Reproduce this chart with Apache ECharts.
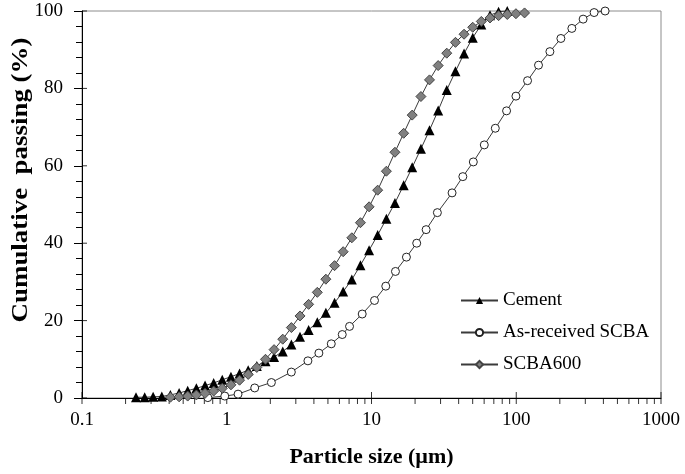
<!DOCTYPE html>
<html><head><meta charset="utf-8">
<script src="https://cdn.jsdelivr.net/npm/echarts@6/dist/echarts.min.js"></script>
<style>html,body{margin:0;padding:0;background:#fff}#c{width:685px;height:474px}</style>
</head><body><div id="c"></div>
<script>
// Particle size (µm) and cumulative passing (%)
const cementSize = [0.236,0.271,0.310,0.356,0.408,0.469,0.537,0.617,0.708,0.812,0.931,1.069,1.226,1.407,1.613,1.852,2.123,2.437,2.795,3.208,3.678,4.223,4.839,5.556,6.371,7.314,8.386,9.625,11.03,12.67,14.52,16.68,19.11,21.95,25.16,28.88,33.11,38.02,43.59,50.04,57.37,65.87,75.50,86.69];
const cementPassing = [0.2,0.2,0.3,0.4,0.8,1.3,1.9,2.5,3.2,3.9,4.7,5.5,6.3,7.2,8.3,9.5,10.6,12.0,13.8,15.8,17.6,19.6,22.0,24.6,27.5,30.6,34.3,38.2,42.1,46.3,50.4,55.0,59.6,64.4,69.2,74.3,79.6,84.4,89.0,93.1,96.5,98.9,99.8,100];

const scbaSize = [0.740,0.969,1.197,1.560,2.034,2.794,3.637,4.330,5.274,6.281,7.052,8.627,10.49,12.55,14.64,17.43,20.53,23.84,28.52,36.03,42.76,50.52,60.15,71.66,85.73,99.5,119.7,142.5,170.8,203.4,242.2,289.8,345.1,411.1];
const scbaPassing = [0.1,0.5,1.0,2.6,4.0,6.7,9.6,11.6,14.0,16.4,18.5,21.7,25.2,28.9,32.7,36.4,40.0,43.5,47.9,53.0,57.2,61.0,65.4,69.7,74.2,78.0,82.0,86.0,89.5,92.9,95.5,97.9,99.6,100];

const scba600Size = [0.408,0.469,0.537,0.617,0.708,0.812,0.931,1.069,1.226,1.407,1.613,1.852,2.123,2.437,2.795,3.208,3.678,4.223,4.839,5.556,6.371,7.314,8.386,9.625,11.03,12.67,14.52,16.68,19.11,21.95,25.16,28.88,33.11,38.02,43.59,50.04,57.37,65.87,75.50,86.69,99.5,114.1];
const scba600Passing = [0.2,0.3,0.5,0.8,1.2,1.8,2.5,3.4,4.6,6.1,7.9,10.0,12.5,15.2,18.2,21.2,24.2,27.3,30.7,34.2,37.8,41.4,45.3,49.4,53.7,58.6,63.5,68.4,73.1,77.9,82.2,85.9,89.1,91.9,94.0,95.8,97.3,98.2,98.8,99.1,99.3,99.5];

const seriesNames = ['Cement','As-received SCBA','SCBA600'];
const xMajorTicks = [0.1,1,10,100,1000];
const xMinorTicks = [0.2,0.3,0.4,0.5,0.6,0.7,0.8,0.9,2,3,4,5,6,7,8,9,20,30,40,50,60,70,80,90,200,300,400,500,600,700,800,900];
const yMajorTicks = [0,20,40,60,80,100];

const pair = (xs, ys) => xs.map((x, i) => [x, ys[i]]);
const FONT = '"Liberation Serif", "Times New Roman", serif';

const chart = echarts.init(document.getElementById('c'), null, {renderer: 'canvas'});
chart.setOption({
  animation: false,
  backgroundColor: '#fff',
  grid: {left: 82, right: 24, top: 11, bottom: 76, show: true, borderColor: '#8c8c8c', borderWidth: 1, backgroundColor: 'transparent'},
  xAxis: {
    type: 'log', logBase: 10, min: 0.1, max: 1000,
    axisLine: {show: true, lineStyle: {color: '#000', width: 1}},
    axisTick: {show: false},
    minorTick: {show: false},
    splitLine: {show: false},
    axisLabel: {color: '#000', fontFamily: FONT, fontSize: 19, margin: 13,
      formatter: v => (v < 1 ? String(+v.toFixed(1)) : String(Math.round(v)))},
    name: 'Particle size (µm)', nameLocation: 'middle', nameGap: 48,
    nameTextStyle: {color: '#000', fontFamily: FONT, fontSize: 22, fontWeight: 'bold'}
  },
  yAxis: {
    type: 'value', min: 0, max: 100, interval: 20,
    axisLine: {show: true, lineStyle: {color: '#000', width: 1}},
    axisTick: {show: true, length: 8, lineStyle: {color: '#000'}},
    minorTick: {show: true, splitNumber: 5, length: 6, lineStyle: {color: '#000'}},
    splitLine: {show: false},
    axisLabel: {color: '#000', fontFamily: FONT, fontSize: 19, margin: 19}
  },
  legend: {
    data: seriesNames, orient: 'vertical', left: 460, top: 291,
    itemWidth: 37, itemHeight: 9, itemGap: 13, padding: 0,
    textStyle: {color: '#000', fontFamily: FONT, fontSize: 19}
  },
  graphic: [{
    type: 'text', x: 21, y: 180, rotation: Math.PI / 2, scaleX: 1.17,
    style: {text: 'Cumulative  passing (%)', font: 'bold 23px "Liberation Serif", serif', fill: '#000', align: 'center', verticalAlign: 'middle'}
  }],
  series: [
    {
      name: 'Cement', type: 'line', data: pair(cementSize, cementPassing),
      symbol: 'triangle', symbolSize: 10,
      lineStyle: {color: '#3a3a3a', width: 1},
      itemStyle: {color: '#000', borderColor: '#000', borderWidth: 0},
      clip: false, z: 3
    },
    {
      name: 'As-received SCBA', type: 'line', data: pair(scbaSize, scbaPassing),
      symbol: 'circle', symbolSize: 8,
      lineStyle: {color: '#3a3a3a', width: 1},
      itemStyle: {color: '#fff', borderColor: '#222', borderWidth: 1},
      clip: false, z: 3
    },
    {
      name: 'SCBA600', type: 'line', data: pair(scba600Size, scba600Passing),
      symbol: 'diamond', symbolSize: 10,
      lineStyle: {color: '#3a3a3a', width: 1},
      itemStyle: {color: '#808080', borderColor: '#444', borderWidth: 1},
      clip: false, z: 3
    },
    {
      name: 'xMinorTicks', type: 'scatter', data: xMinorTicks.map(v => [v, 0]),
      symbol: 'rect', symbolSize: [1, 6], symbolOffset: [0, 3],
      itemStyle: {color: '#000'}, silent: true, clip: false, z: 1
    },
    {
      name: 'xMajorTicks', type: 'scatter', data: xMajorTicks.map(v => [v, 0]),
      symbol: 'rect', symbolSize: [1, 12], symbolOffset: [0, 0],
      itemStyle: {color: '#000'}, silent: true, clip: false, z: 1
    },
    {
      name: 'yMajorTicksInner', type: 'scatter', data: yMajorTicks.map(v => [0.1, v]),
      symbol: 'rect', symbolSize: [5, 1], symbolOffset: [2.5, 0],
      itemStyle: {color: '#000'}, silent: true, clip: false, z: 1
    }
  ]
});
</script>
</body></html>
